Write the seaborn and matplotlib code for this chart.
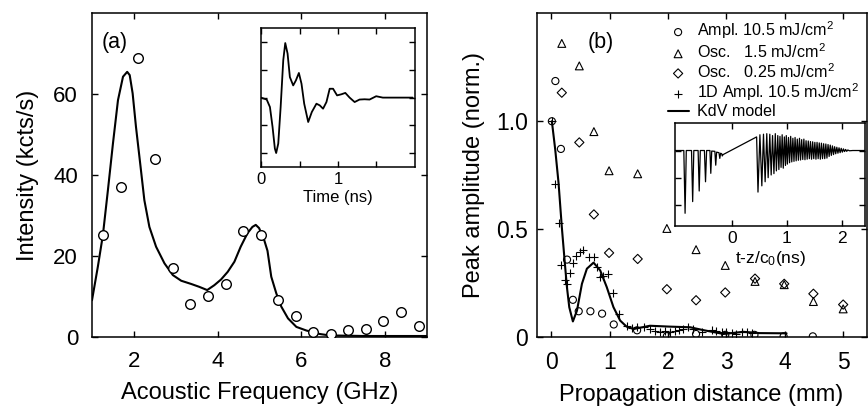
import numpy as np
import pandas as pd
import seaborn as sns
import matplotlib.pyplot as plt

sns.set_theme(style="ticks", rc={'axes.edgecolor': 'black', 'xtick.color': 'black',
                                 'ytick.color': 'black', 'text.color': 'black',
                                 'axes.labelcolor': 'black', 'axes.linewidth': 1.1})
plt.rcParams['font.family'] = ['Liberation Sans', 'DejaVu Sans']
plt.rcParams['mathtext.fontset'] = 'custom'
plt.rcParams['mathtext.rm'] = 'Liberation Sans'
plt.rcParams['mathtext.it'] = 'Liberation Sans:italic'

# ---- panel (a): spectrum ----
freq_pts = [1.27, 1.69, 2.11, 2.51, 2.93, 3.35, 3.76, 4.19, 4.61, 5.03, 5.45, 5.86,
            6.28, 6.70, 7.11, 7.54, 7.96, 8.38, 8.80]
inten_pts = [25.1, 37.0, 69.0, 44.0, 17.1, 8.1, 10.1, 13.2, 26.1, 25.1, 9.1, 5.2,
             1.3, 0.8, 1.7, 2.1, 4.0, 6.1, 2.6]

freq_fit = [1.0, 1.14, 1.26, 1.38, 1.50, 1.62, 1.74, 1.84, 1.90, 1.97, 2.05, 2.16,
            2.25, 2.37, 2.53, 2.73, 2.93, 3.13, 3.37, 3.56, 3.75, 3.92, 4.08, 4.24,
            4.40, 4.55, 4.71, 4.83, 4.91, 4.99, 5.11, 5.19, 5.28, 5.40, 5.52, 5.68,
            5.88, 6.12, 6.44, 6.67, 7.5, 9.0]
inten_fit = [9.1, 17.4, 25.2, 36.3, 47.8, 58.5, 64.3, 65.5, 64.7, 60.2, 51.9, 42.0,
             33.8, 27.2, 22.3, 18.2, 15.3, 13.9, 13.1, 12.4, 11.6, 12.8, 14.2, 16.1,
             18.6, 22.3, 25.6, 27.2, 27.7, 26.9, 24.0, 21.3, 14.9, 10.8, 7.5, 4.6,
             2.5, 1.6, 0.74, 0.4, 0.25, 0.25]

# inset (a): time trace
time_a = [0.0, 0.074, 0.116, 0.15, 0.18, 0.197, 0.224, 0.255, 0.289, 0.315, 0.345,
          0.375, 0.418, 0.453, 0.492, 0.526, 0.561, 0.613, 0.66, 0.72, 0.763, 0.806,
          0.85, 0.892, 0.936, 0.988, 1.044, 1.095, 1.151, 1.216, 1.28, 1.345, 1.41,
          1.496, 1.582, 1.668, 1.97]
sig_a = [0.0, -0.07, -0.34, -1.06, -1.84, -2.0, -1.66, -0.34, 1.35, 1.97, 1.59,
         0.74, 0.44, 0.62, 0.89, 0.50, -0.22, -0.88, -0.52, -0.22, -0.28, -0.40,
         -0.16, 0.32, 0.32, 0.08, 0.12, 0.17, 0.0, -0.16, -0.07, -0.06, -0.07,
         0.05, 0.0, 0.0, 0.0]

# ---- panel (b): peak amplitude vs distance ----
amp_x = [0.01, 0.07, 0.165, 0.27, 0.37, 0.47, 0.67, 0.87, 1.07, 1.47, 1.98, 2.48,
         2.98, 3.48, 3.98, 4.48]
amp_y = [1.0, 1.186, 0.872, 0.36, 0.174, 0.121, 0.121, 0.11, 0.06, 0.033, 0.006,
         0.016, 0.012, 0.012, 0.005, 0.005]

osc_x = [0.18, 0.48, 0.73, 0.99, 1.48, 1.98, 2.48, 2.98, 3.49, 3.99, 4.49, 5.0]
osc15_y = [1.36, 1.256, 0.952, 0.771, 0.757, 0.504, 0.406, 0.333, 0.259, 0.244,
           0.166, 0.132]
osc025_y = [1.132, 0.902, 0.569, 0.391, 0.363, 0.223, 0.172, 0.208, 0.272, 0.248,
            0.202, 0.152]

amp1d_x = [0.01, 0.068, 0.125, 0.171, 0.228, 0.268, 0.325, 0.37, 0.427, 0.484, 0.535,
           0.638, 0.724, 0.78, 0.838, 0.894, 0.968, 1.065, 1.168, 1.29, 1.38, 1.465,
           1.58, 1.69, 1.78, 1.86, 1.95, 2.03, 2.12, 2.18, 2.26, 2.35, 2.43, 2.58,
           2.75, 2.83, 2.92, 3.0, 3.09, 3.17, 3.26, 3.35, 3.43]
amp1d_y = [1.0, 0.71, 0.53, 0.333, 0.267, 0.245, 0.30, 0.344, 0.375, 0.396, 0.406,
           0.372, 0.372, 0.326, 0.279, 0.284, 0.295, 0.205, 0.109, 0.054, 0.044,
           0.047, 0.047, 0.039, 0.031, 0.023, 0.028, 0.026, 0.031, 0.034, 0.039,
           0.047, 0.039, 0.023, 0.034, 0.028, 0.023, 0.023, 0.019, 0.016, 0.023,
           0.026, 0.022]

kdv_x = [0.01, 0.068, 0.125, 0.18, 0.228, 0.268, 0.308, 0.37, 0.44, 0.525, 0.61,
         0.724, 0.838, 0.95, 1.065, 1.18, 1.29, 1.41, 1.69, 2.03, 2.38, 2.60, 2.95,
         3.29, 3.57, 4.03]
kdv_y = [1.0, 0.868, 0.713, 0.512, 0.357, 0.233, 0.14, 0.074, 0.124, 0.248, 0.318,
         0.346, 0.31, 0.233, 0.14, 0.078, 0.05, 0.039, 0.054, 0.050, 0.047, 0.034,
         0.016, 0.026, 0.020, 0.019]

# inset (b): KdV waveform
time_b = [-1.03, -0.875, -0.852, -0.83, -0.735, -0.714, -0.693, -0.615, -0.595, -0.575,
          -0.50, -0.48, -0.46, -0.40, -0.384, -0.367, -0.31, -0.294, -0.278, -0.235,
          -0.22, -0.205, -0.185, -0.175, -0.16,
          0.45, 0.475, 0.51, 0.545, 0.575, 0.605, 0.635, 0.66, 0.69, 0.715, 0.74,
          0.765, 0.79, 0.81, 0.835, 0.855, 0.875, 0.895, 0.915, 0.935, 0.955, 0.975,
          0.99, 1.01, 1.03, 1.05, 1.07, 1.09, 1.11, 1.13, 1.15, 1.17, 1.19, 1.21,
          1.23, 1.25, 1.27, 1.29, 1.31, 1.33, 1.35, 1.37, 1.39, 1.41, 1.43, 1.45,
          1.47, 1.49, 1.51, 1.53, 1.55, 1.57, 1.59, 1.61, 1.63, 1.65, 1.67, 1.69,
          1.71, 1.73, 1.75, 1.77, 1.79, 1.81, 1.83, 1.85, 1.87, 1.89, 1.91, 1.93,
          1.95, 1.97, 1.99, 2.01, 2.03, 2.05, 2.07, 2.09, 2.11, 2.14, 2.2, 2.45]
sig_b = [0.0, 0.0, -2.31, 0.0, 0.0, -1.88, 0.0, 0.0, -1.49, 0.0,
         0.0, -1.15, 0.0, 0.0, -0.84, -0.02, -0.03, -0.54, -0.06, -0.08,
         -0.29, -0.10, -0.12, -0.20, -0.15,
         0.50, -1.53, 0.58, -1.30, 0.60, -1.15, 0.62, -1.00, 0.60, -0.90, 0.55,
         -0.85, 0.62, -0.75, 0.55, -0.70, 0.52, -0.62, 0.58, -0.65, 0.50, -0.55,
         0.55, -0.50, 0.48, -0.45, 0.52, -0.42, 0.45, -0.40, 0.48, -0.38, 0.42, -0.36,
         0.45, -0.35, 0.40, -0.33, 0.42, -0.34, 0.36, -0.32, 0.35, -0.30, 0.33, -0.32,
         0.32, -0.30, 0.30, -0.32, 0.30, -0.30, 0.28, -0.32, 0.27, -0.30, 0.25, -0.30,
         0.24, -0.28, 0.22, -0.22, 0.20, -0.18, 0.17, -0.15, 0.14, -0.12, 0.12, -0.10,
         0.10, -0.08, 0.08, -0.06, 0.06, -0.04, 0.04, -0.03, 0.02, -0.01, 0.0, 0.0]


def style_ticks(ax, size, pad):
    ax.tick_params(direction='in', top=True, right=True, length=4, width=1,
                   labelsize=size, pad=pad)


fig = plt.figure(figsize=(8.68, 4.11), dpi=100)
ax_a = fig.add_axes([0.106, 0.180, 0.386, 0.788])
ax_ai = fig.add_axes([0.3007, 0.594, 0.1774, 0.337])
ax_b = fig.add_axes([0.6183, 0.179, 0.380, 0.789])
ax_bi = fig.add_axes([0.778, 0.4513, 0.219, 0.2506])

# panel (a)
sns.lineplot(x=freq_fit, y=inten_fit, ax=ax_a, color='black', lw=1.5,
             estimator=None, sort=False)
sns.scatterplot(x=freq_pts, y=inten_pts, ax=ax_a, s=48, marker='o',
                facecolor='white', edgecolor='black', linewidth=1.0, zorder=3)
ax_a.set_xlim(1, 9)
ax_a.set_ylim(0, 80)
ax_a.set_xticks([2, 4, 6, 8])
ax_a.set_yticks([0, 20, 40, 60])
style_ticks(ax_a, 16, 10)
ax_a.set_xlabel('Acoustic Frequency (GHz)', fontsize=17, labelpad=7)
ax_a.set_ylabel('Intensity (kcts/s)', fontsize=17, labelpad=10)
ax_a.text(0.03, 0.91, '(a)', transform=ax_a.transAxes, fontsize=15.5, va='center')

sns.lineplot(x=time_a, y=sig_a, ax=ax_ai, color='black', lw=1.3,
             estimator=None, sort=False)
ax_ai.set_xlim(0, 2)
ax_ai.set_ylim(-2.5, 2.5)
ax_ai.set_xticks([0, 0.5, 1, 1.5])
ax_ai.set_xticklabels(['0', '', '1', ''])
ax_ai.set_yticks([-2, -1, 0, 1, 2])
ax_ai.set_yticklabels([])
style_ticks(ax_ai, 12, 4)
ax_ai.set_xlabel('Time (ns)', fontsize=12, labelpad=2)

# panel (b)
sns.lineplot(x=kdv_x, y=kdv_y, ax=ax_b, color='black', lw=1.5,
             estimator=None, sort=False, label='KdV model', zorder=2)
sns.scatterplot(x=amp_x, y=amp_y, ax=ax_b, marker='o', s=26, facecolor='none',
                edgecolor='black', linewidth=0.8, label='Ampl. 10.5 mJ/cm$^2$', zorder=3)
sns.scatterplot(x=osc_x, y=osc15_y, ax=ax_b, marker='^', s=32, facecolor='none',
                edgecolor='black', linewidth=0.8, label='Osc.   1.5 mJ/cm$^2$', zorder=3)
sns.scatterplot(x=osc_x, y=osc025_y, ax=ax_b, marker='D', s=22, facecolor='none',
                edgecolor='black', linewidth=0.8, label='Osc.   0.25 mJ/cm$^2$', zorder=3)
sns.scatterplot(x=amp1d_x, y=amp1d_y, ax=ax_b, marker='+', s=38, color='black',
                linewidth=0.8, label='1D Ampl. 10.5 mJ/cm$^2$', zorder=3)
ax_b.set_xlim(-0.25, 5.4)
ax_b.set_ylim(0, 1.5)
ax_b.set_xticks([0, 1, 2, 3, 4, 5])
ax_b.set_yticks([0, 0.5, 1.0])
ax_b.set_yticklabels(['0', '0.5', '1.0'])
style_ticks(ax_b, 16.5, 10)
ax_b.tick_params(axis='y', pad=6)
ax_b.set_xlabel('Propagation distance (mm)', fontsize=17, labelpad=7)
ax_b.set_ylabel('Peak amplitude (norm.)', fontsize=17, labelpad=8)
ax_b.text(0.155, 0.908, '(b)', transform=ax_b.transAxes, fontsize=15.5, va='center')

handles, labels = ax_b.get_legend_handles_labels()
order = [1, 2, 3, 4, 0]
ax_b.legend([handles[i] for i in order], [labels[i] for i in order],
            loc='upper left', bbox_to_anchor=(0.397, 0.98), frameon=False,
            fontsize=11.6, handlelength=1.3, handletextpad=0.55, labelspacing=0.06,
            borderpad=0, borderaxespad=0)

sns.lineplot(x=time_b, y=sig_b, ax=ax_bi, color='black', lw=0.9,
             estimator=None, sort=False)
ax_bi.set_xlim(-1.03, 2.43)
ax_bi.set_ylim(-2.76, 1.03)
ax_bi.set_xticks([0, 1, 2])
ax_bi.set_yticks([-2, -1, 0])
ax_bi.set_yticklabels([])
style_ticks(ax_bi, 12.5, 4)
ax_bi.set_xlabel('t-z/c$_0$(ns)', fontsize=12.5, labelpad=2)

fig.savefig('out.png', dpi=100, facecolor='white')
